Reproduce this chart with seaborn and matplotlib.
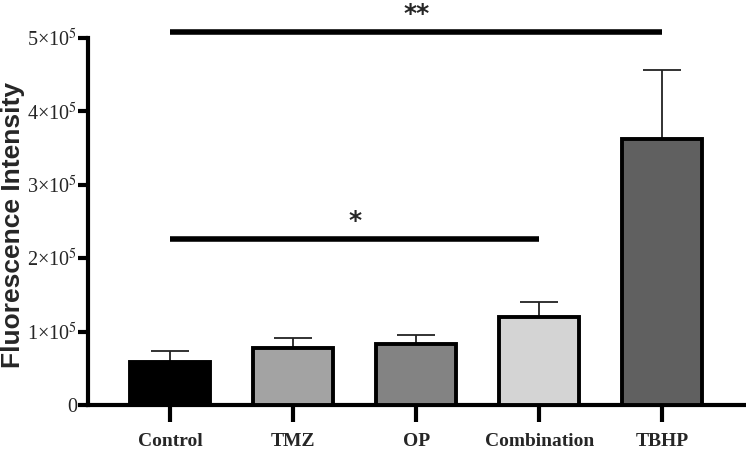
import numpy as np
import pandas as pd
import matplotlib
matplotlib.use('Agg')
import matplotlib.pyplot as plt
import seaborn as sns

# Datos
groups = ['Control', 'TMZ', 'OP', 'Combination', 'TBHP']
means = [59000, 77000, 83000, 120000, 362000]
errors = [15000, 14000, 13000, 21000, 94000]
bar_colors = ['#000000', '#a3a3a3', '#838383', '#d4d4d4', '#606060']
y_ticks = [0, 100000, 200000, 300000, 400000, 500000]
y_tick_labels = ['0', r'1×10$^5$', r'2×10$^5$', r'3×10$^5$', r'4×10$^5$', r'5×10$^5$']

# comparaciones: (grupo inicio, grupo fin, altura, texto)
sig_pairs = [('Control', 'Combination', 226000, '*'),
             ('Control', 'TBHP', 508000, '**')]

df = pd.DataFrame({'group': groups, 'value': means})

sns.set_style('white')
plt.rcParams['mathtext.fontset'] = 'stix'

fig = plt.figure(figsize=(7.46, 4.5), dpi=100)
ax = fig.add_axes([0.118, 0.10, 0.882, 0.8156])

sns.barplot(data=df, x='group', y='value', hue='group', palette=bar_colors,
            legend=False, errorbar=None, width=0.65, edgecolor='black',
            linewidth=2.8, ax=ax, zorder=3)

# barras de error solo hacia arriba
ax.errorbar(np.arange(len(groups)), means, yerr=[np.zeros(len(errors)), errors],
            fmt='none', ecolor='#222222', elinewidth=1.3, capsize=14,
            capthick=1.3, zorder=2)

ax.set_xlim(-0.667, 4.68)
ax.set_ylim(0, 500000)
ax.set_yticks(y_ticks)
ax.set_yticklabels(y_tick_labels, fontfamily='Liberation Serif', fontsize=14.5)
ax.set_xticks(range(len(groups)))
ax.set_xticklabels(groups, fontfamily='Liberation Serif', fontweight='bold', fontsize=14)
ax.set_xlabel('')
ax.set_ylabel('Fluorescence Intensity', fontfamily='Liberation Sans',
              fontweight='bold', fontsize=19)
ax.yaxis.set_label_coords(-0.096, 0.49)

for side in ['top', 'right']:
    ax.spines[side].set_visible(False)
for side in ['left', 'bottom']:
    ax.spines[side].set_linewidth(3)
    ax.spines[side].set_color('black')
ax.tick_params(axis='y', length=7, width=3, color='black', pad=1, left=True)
ax.tick_params(axis='x', length=12, width=3, color='black', pad=8, bottom=True)

# lineas de significancia
for g1, g2, h, txt in sig_pairs:
    x1, x2 = groups.index(g1), groups.index(g2)
    ax.plot([x1, x2], [h, h], color='black', linewidth=4, clip_on=False,
            solid_capstyle='butt')
    ax.text((x1 + x2) / 2, h + 9000, txt, ha='center', va='bottom',
            fontsize=18, fontweight='bold', fontfamily='DejaVu Sans')

plt.savefig('out.png', dpi=100)
